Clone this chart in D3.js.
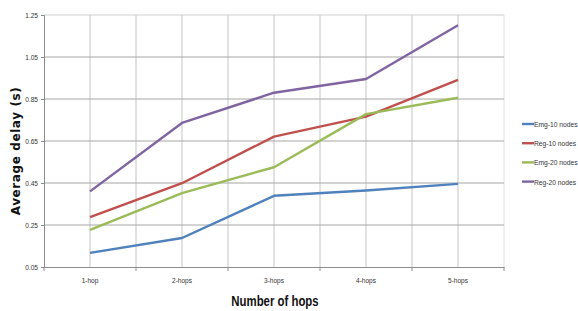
<!DOCTYPE html>
<html>
<head>
<meta charset="utf-8">
<script src="https://cdn.jsdelivr.net/npm/d3@7"></script>
<style>
  body { margin: 0; background: #fff; }
  svg { display: block; }
  .tick-lbl { font-family: 'Liberation Sans', Arial, sans-serif; font-size: 8px; fill: #333; }
</style>
</head>
<body>
<div id="chart"></div>
<script>
!(function () {
  var width = 578
  var height = 311

  // categories on the x axis
  var hops = ['1-hop', '2-hops', '3-hops', '4-hops', '5-hops']

  // average delay (s) per series
  var emg10 = [0.117, 0.188, 0.389, 0.414, 0.446]
  var reg10 = [0.288, 0.449, 0.671, 0.766, 0.941]
  var emg20 = [0.227, 0.402, 0.525, 0.778, 0.856]
  var reg20 = [0.410, 0.736, 0.880, 0.945, 1.201]

  var seriesNames = ['Emg-10 nodes', 'Reg-10 nodes', 'Emg-20 nodes', 'Reg-20 nodes']
  var yTicks = [0.05, 0.25, 0.45, 0.65, 0.85, 1.05, 1.25]

  var colors = ['#4f81bd', '#c0504d', '#9bbb59', '#8064a2']
  var series = [emg10, reg10, emg20, reg20]

  var plot = { left: 44, right: 504, top: 15, bottom: 267 }
  var squeeze = 0.82

  // narrow look of the original font: squash horizontally
  function condense (sel, k) {
    sel.each(function () {
      var t = d3.select(this)
      var x = +t.attr('x') || 0
      t.attr('x', x / k).attr('transform', 'scale(' + k + ',1)')
    })
  }

  var svg = d3.select('#chart').append('svg')
              .attr('width', width)
              .attr('height', height)

  var xScale = d3.scaleBand()
                 .domain(hops)
                 .range([plot.left, plot.right])
  var yScale = d3.scaleLinear()
                 .domain([0.05, 1.25])
                 .range([plot.bottom, plot.top])

  var bw = xScale.bandwidth()

  // vertical grid: band edges and centres
  var vLines = []
  hops.forEach(function (h) {
    vLines.push(xScale(h) + bw / 2)
    vLines.push(xScale(h) + bw)
  })
  svg.append('g').classed('vgrid', true).selectAll('line')
      .data(vLines)
      .enter()
      .append('line')
        .attr('x1', function (d) { return d })
        .attr('x2', function (d) { return d })
        .attr('y1', plot.top)
        .attr('y2', plot.bottom)
        .attr('stroke', function (d, i) { return i === vLines.length - 1 ? '#e2e2e2' : '#c4c4c4' })
        .attr('stroke-width', 1)

  // horizontal grid
  svg.append('g').classed('hgrid', true).selectAll('line')
      .data(yTicks.slice(1))
      .enter()
      .append('line')
        .attr('x1', plot.left)
        .attr('x2', plot.right)
        .attr('y1', function (d) { return yScale(d) })
        .attr('y2', function (d) { return yScale(d) })
        .attr('stroke', function (d) { return d === 1.25 ? '#cfcfcf' : '#a6a6a6' })
        .attr('stroke-width', 1)

  // y axis
  var yAxis = d3.axisLeft(yScale).tickValues(yTicks).tickSize(3).tickFormat(d3.format('.2f'))
  var yg = svg.append('g').attr('id', 'y-axis')
              .attr('transform', 'translate(' + plot.left + ',0)')
              .call(yAxis)
  yg.select('.domain').attr('stroke', '#8c8c8c')
  yg.selectAll('.tick line').attr('stroke', '#8c8c8c')
  yg.selectAll('.tick text').attr('class', 'tick-lbl').attr('x', -6).call(condense, squeeze)

  // x axis
  var xAxis = d3.axisBottom(xScale).tickSize(0).tickPadding(10)
  var xg = svg.append('g').attr('id', 'x-axis')
              .attr('transform', 'translate(0,' + plot.bottom + ')')
              .call(xAxis)
  xg.select('.domain').attr('stroke', '#8c8c8c')
  xg.selectAll('.tick text').attr('class', 'tick-lbl').call(condense, squeeze)
  xg.selectAll('line.edge')
      .data([plot.left].concat(hops.map(function (h) { return xScale(h) + bw })))
      .enter()
      .append('line')
        .classed('edge', true)
        .attr('x1', function (d) { return d })
        .attr('x2', function (d) { return d })
        .attr('y1', 0)
        .attr('y2', 4)
        .attr('stroke', '#8c8c8c')

  // lines
  var line = d3.line()
               .x(function (d, i) { return xScale(hops[i]) + bw / 2 })
               .y(function (d) { return yScale(d) })

  svg.append('g').classed('lines', true).selectAll('path')
      .data(series)
      .enter()
      .append('path')
        .attr('d', line)
        .attr('fill', 'none')
        .attr('stroke', function (d, i) { return colors[i] })
        .attr('stroke-width', 2.4)
        .attr('stroke-linejoin', 'round')

  // legend
  var lg = svg.append('g').classed('legend', true)
              .attr('transform', 'translate(522,124)')
  var rows = lg.selectAll('g')
      .data(seriesNames)
      .enter()
      .append('g')
        .attr('transform', function (d, i) { return 'translate(0,' + (i * 19.2) + ')' })
  rows.append('line')
      .attr('x1', 0).attr('x2', 12)
      .attr('y1', 0).attr('y2', 0)
      .attr('stroke', function (d, i) { return colors[i] })
      .attr('stroke-width', 2.4)
  rows.append('text')
      .attr('class', 'tick-lbl')
      .attr('x', 12)
      .attr('y', 3)
      .text(function (d) { return d })
      .call(condense, 0.84)

  // axis titles
  svg.append('text')
      .attr('transform', 'translate(20,' + ((plot.top + plot.bottom) / 2 + 10) + ') rotate(-90)')
      .attr('text-anchor', 'middle')
      .attr('font-family', 'DejaVu Sans, sans-serif')
      .attr('font-weight', 'bold')
      .attr('font-size', 12)
      .attr('letter-spacing', 0.6)
      .attr('fill', '#111')
      .text('Average delay (s)')

  svg.append('text')
      .attr('x', 275)
      .attr('y', 306)
      .attr('text-anchor', 'middle')
      .attr('font-family', "'Liberation Sans', Arial, sans-serif")
      .attr('font-weight', 'bold')
      .attr('font-size', 15)
      .attr('fill', '#111')
      .text('Number of hops')
      .call(condense, 0.76)
}())
</script>
</body>
</html>
